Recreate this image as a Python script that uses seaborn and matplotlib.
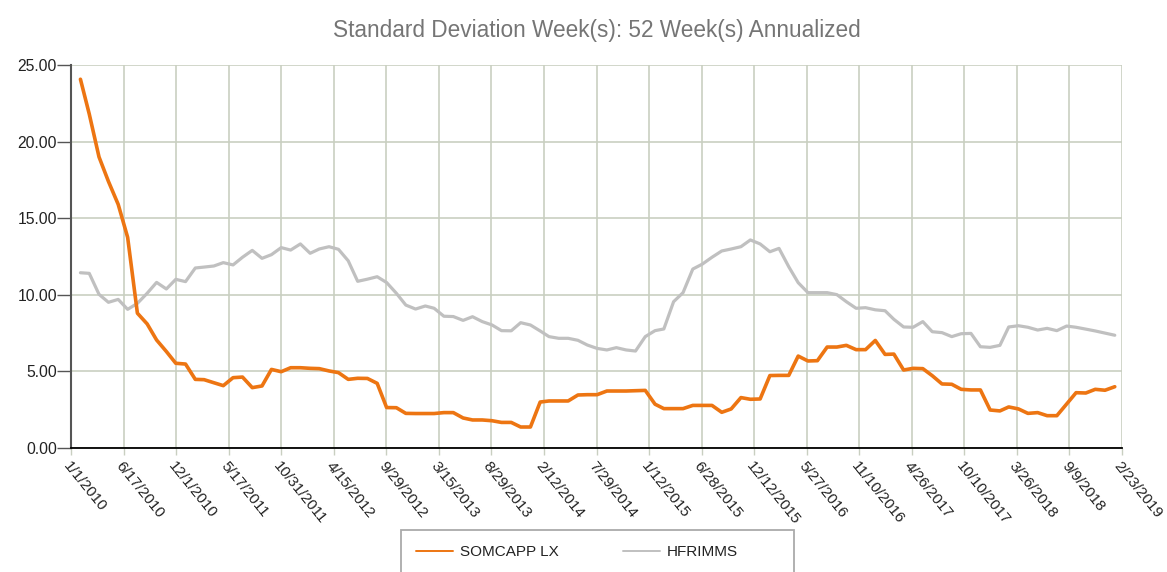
import pandas as pd
import matplotlib.pyplot as plt
from matplotlib.lines import Line2D
from matplotlib.patches import Rectangle
import seaborn as sns

# monthly points, end of month, Jan 2010 .. Jan 2019
dates = pd.date_range("2010-01-31", "2019-01-31", freq="ME")

somcapp = [24.07, 21.8, 19.0, 17.4, 15.9, 13.75, 8.8, 8.1, 7.05, 6.3,
           5.53, 5.48, 4.48, 4.46, 4.26, 4.07, 4.59, 4.63, 3.94, 4.05,
           5.13, 4.98, 5.24, 5.24, 5.2, 5.18, 5.03, 4.92, 4.48, 4.55,
           4.54, 4.22, 2.64, 2.63, 2.26, 2.25, 2.25, 2.25, 2.31, 2.31,
           1.96, 1.83, 1.83, 1.78, 1.67, 1.67, 1.37, 1.37, 3.0, 3.07,
           3.07, 3.07, 3.46, 3.48, 3.48, 3.72, 3.72, 3.72, 3.74, 3.76,
           2.86, 2.57, 2.57, 2.57, 2.78, 2.78, 2.78, 2.33, 2.55, 3.29,
           3.18, 3.2, 4.73, 4.74, 4.74, 6.0, 5.68, 5.7, 6.59, 6.59,
           6.7, 6.42, 6.42, 7.02, 6.11, 6.13, 5.09, 5.2, 5.18, 4.72,
           4.18, 4.16, 3.83, 3.79, 3.79, 2.48, 2.42, 2.68, 2.55, 2.26,
           2.31, 2.11, 2.11, 2.87, 3.61, 3.59, 3.83, 3.77, 4.0]

hfrimms = [11.44, 11.4, 10.03, 9.51, 9.7, 9.05, 9.44, 10.1, 10.81, 10.38,
           11.01, 10.86, 11.75, 11.81, 11.88, 12.1, 11.95, 12.45, 12.9, 12.38,
           12.62, 13.08, 12.92, 13.32, 12.71, 12.99, 13.14, 12.97, 12.22, 10.88,
           11.02, 11.18, 10.8, 10.1, 9.33, 9.07, 9.27, 9.12, 8.6, 8.58,
           8.33, 8.57, 8.25, 8.03, 7.66, 7.65, 8.18, 8.03, 7.64, 7.27,
           7.16, 7.16, 7.03, 6.72, 6.5, 6.4, 6.55, 6.4, 6.33, 7.27,
           7.66, 7.77, 9.55, 10.14, 11.68, 12.0, 12.45, 12.86, 12.99, 13.14,
           13.58, 13.32, 12.81, 13.03, 11.83, 10.79, 10.14, 10.14, 10.14, 10.01,
           9.55, 9.12, 9.16, 9.02, 8.96, 8.4, 7.9, 7.88, 8.25, 7.59,
           7.53, 7.27, 7.46, 7.48, 6.61, 6.57, 6.7, 7.9, 7.98, 7.88,
           7.7, 7.81, 7.66, 7.96, 7.88, 7.76, 7.64, 7.5, 7.36]

series_names = ["SOMCAPP LX", "HFRIMMS"]
colors = ["#ED7512", "#C0C0C0"]
tick_dates = pd.date_range("2010-01-01", periods=21, freq="167D")
tick_labels = [f"{d.month}/{d.day}/{d.year}" for d in tick_dates]
y_ticks = [0, 5, 10, 15, 20, 25]
title = "Standard Deviation Week(s): 52 Week(s) Annualized"

df = pd.DataFrame({"date": list(dates) * 2,
                   "value": somcapp + hfrimms,
                   "series": [series_names[0]] * len(dates) + [series_names[1]] * len(dates)})

sns.set_style("white")
plt.rcParams["font.family"] = ["Liberation Sans", "DejaVu Sans"]

W, H = 1167, 572
fig = plt.figure(figsize=(W / 100, H / 100), dpi=100)
ax = fig.add_axes([71 / W, 1 - 448 / H, (1122 - 71) / W, (448 - 65) / H])

ax.grid(True, color="#C9CFC1", linewidth=1.2)
ax.set_axisbelow(True)

# gray first so the orange sits on top
sns.lineplot(data=df[df["series"] == series_names[1]], x="date", y="value",
             color=colors[1], linewidth=2.3, ax=ax, legend=False)
sns.lineplot(data=df[df["series"] == series_names[0]], x="date", y="value",
             color=colors[0], linewidth=2.6, ax=ax, legend=False)

ax.set_xlim(tick_dates[0], tick_dates[-1])
ax.set_ylim(0, 25)
ax.set_xticks(tick_dates)
ax.set_xticklabels(tick_labels, rotation=-51, ha="left", va="top",
                   rotation_mode="anchor")
ax.set_yticks(y_ticks)
ax.set_yticklabels([f"{v:.2f}" for v in y_ticks])
ax.set_xlabel("")
ax.set_ylabel("")

for side in ["top", "right"]:
    ax.spines[side].set_visible(False)
ax.spines["left"].set_color("#555555")
ax.spines["left"].set_linewidth(1.5)
ax.spines["bottom"].set_color("#000000")
ax.spines["bottom"].set_linewidth(1.3)

ax.tick_params(axis="y", left=True, length=10, width=1, color="#555555",
               labelsize=11.3, labelcolor="#222222", pad=0)
ax.tick_params(axis="x", bottom=True, length=5, width=1, color="#C9CFC1",
               labelsize=11, labelcolor="#222222", pad=3)

fig.text(596.5 / W, 1 - 30 / H, title, ha="center", va="center",
         fontsize=16.3, color="#757575")

# legend box, cut off by the bottom edge like the original
fig.patches.append(Rectangle((401 / W, -0.05), (794 - 401) / W, 0.05 + (572 - 530) / H,
                             transform=fig.transFigure, fill=False,
                             edgecolor="#AAAAAA", linewidth=1.3))
handles = [Line2D([0], [0], color=colors[0], linewidth=1.4),
           Line2D([0], [0], color=colors[1], linewidth=1.4)]
leg = fig.legend(handles, series_names, loc="center left",
                 bbox_to_anchor=(416 / W, 1 - 552 / H), ncol=2,
                 fontsize=11, frameon=False, borderpad=0, borderaxespad=0,
                 handlelength=2.4, columnspacing=4.25, handletextpad=0.45)
for t in leg.get_texts():
    t.set_color("#222222")

plt.savefig("out.png", dpi=100)
